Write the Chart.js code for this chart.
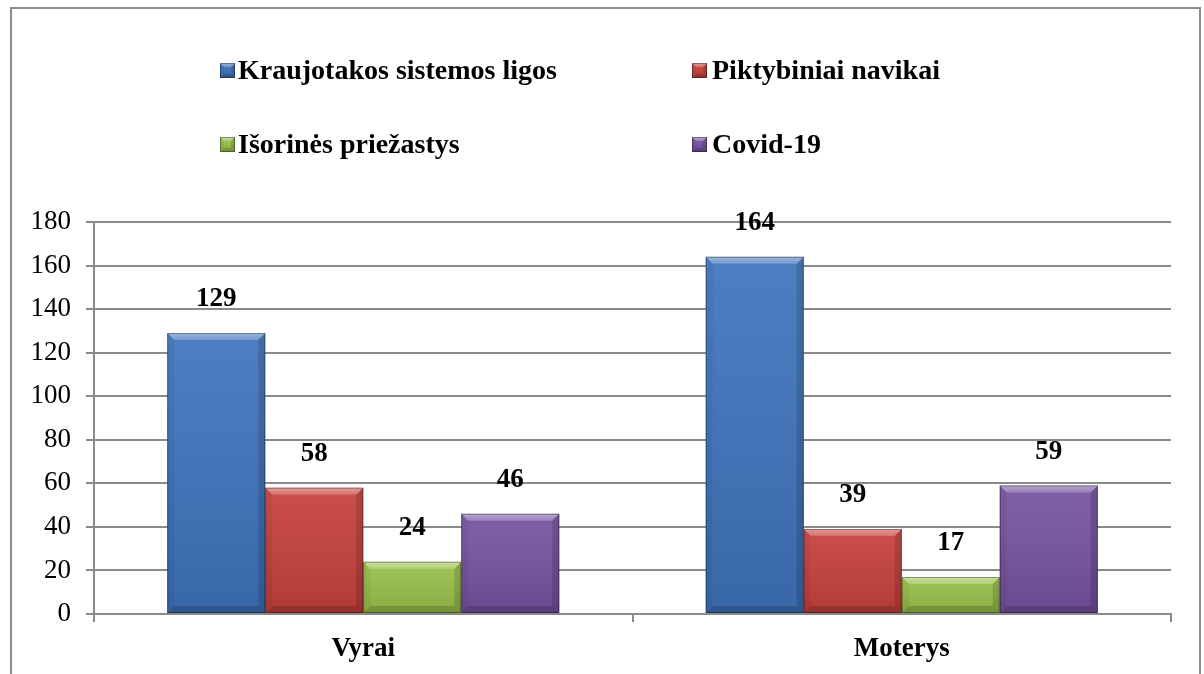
<!DOCTYPE html>
<html>
<head>
<meta charset="utf-8">
<script src="https://cdn.jsdelivr.net/npm/chart.js@4/dist/chart.umd.min.js"></script>
<style>
  html, body { margin: 0; padding: 0; background: #ffffff; }
  #wrap { position: relative; width: 1204px; height: 674px; }
  canvas { display: block; }
</style>
</head>
<body>
<div id="wrap"><canvas id="c" width="1204" height="674"></canvas></div>
<script>
// ---- Data ----
const categories = ['Vyrai', 'Moterys'];
const seriesNames = ['Kraujotakos sistemos ligos', 'Piktybiniai navikai', 'Išorinės priežastys', 'Covid-19'];
const kraujotakos = [129, 164];
const piktybiniai = [58, 39];
const isorines = [24, 17];
const covid = [46, 59];
const yTicks = [0, 20, 40, 60, 80, 100, 120, 140, 160, 180];

// ---- Styles ----
const seriesColors = ['#3E73BC', '#C6403B', '#98BF48', '#7552A0'];
const FONT = '"Liberation Serif", "Times New Roman", serif';
const gridColor = '#8a8a8a';

function bevel(ctx, left, top, right, bottom, b) {
  const w = right - left, h = bottom - top;
  b = Math.max(0, Math.min(b, w / 2, h / 2));
  ctx.save();
  const g = ctx.createLinearGradient(0, top, 0, bottom);
  g.addColorStop(0, 'rgba(255,255,255,0.08)');
  g.addColorStop(1, 'rgba(0,0,0,0.10)');
  ctx.fillStyle = g;
  ctx.fillRect(left, top, w, h);
  // top bevel
  ctx.beginPath();
  ctx.moveTo(left, top); ctx.lineTo(right, top);
  ctx.lineTo(right - b, top + b); ctx.lineTo(left + b, top + b); ctx.closePath();
  const tg = ctx.createLinearGradient(0, top, 0, top + b);
  tg.addColorStop(0, 'rgba(255,255,255,0.45)');
  tg.addColorStop(1, 'rgba(255,255,255,0.20)');
  ctx.fillStyle = tg;
  ctx.fill();
  // left bevel
  ctx.beginPath();
  ctx.moveTo(left, top); ctx.lineTo(left + b, top + b);
  ctx.lineTo(left + b, bottom - b); ctx.lineTo(left, bottom); ctx.closePath();
  ctx.fillStyle = 'rgba(0,0,0,0.05)';
  ctx.fill();
  // right bevel
  ctx.beginPath();
  ctx.moveTo(right, top); ctx.lineTo(right - b, top + b);
  ctx.lineTo(right - b, bottom - b); ctx.lineTo(right, bottom); ctx.closePath();
  ctx.fillStyle = 'rgba(0,0,0,0.14)';
  ctx.fill();
  // bottom bevel
  ctx.beginPath();
  ctx.moveTo(left, bottom); ctx.lineTo(left + b, bottom - b);
  ctx.lineTo(right - b, bottom - b); ctx.lineTo(right, bottom); ctx.closePath();
  ctx.fillStyle = 'rgba(0,0,0,0.16)';
  ctx.fill();
  ctx.strokeStyle = 'rgba(0,0,0,0.35)';
  ctx.lineWidth = 1;
  ctx.strokeRect(left + 0.5, top + 0.5, w - 1, h - 1);
  ctx.restore();
}

const framePlugin = {
  id: 'frame',
  beforeDraw(chart) {
    const ctx = chart.ctx;
    ctx.save();
    ctx.fillStyle = '#ffffff';
    ctx.fillRect(0, 0, chart.width, chart.height);
    ctx.strokeStyle = '#8c8c8c';
    ctx.lineWidth = 2;
    ctx.strokeRect(11, 8, 1189, 700);
    ctx.restore();
  }
};

const bevelPlugin = {
  id: 'bevel',
  afterDatasetsDraw(chart) {
    const ctx = chart.ctx;
    chart.data.datasets.forEach((ds, i) => {
      const meta = chart.getDatasetMeta(i);
      meta.data.forEach(el => {
        const p = el.getProps(['x', 'y', 'base', 'width'], true);
        bevel(ctx, p.x - p.width / 2, Math.min(p.y, p.base), p.x + p.width / 2, Math.max(p.y, p.base), 7);
      });
    });
  }
};

const valuePlugin = {
  id: 'values',
  afterDatasetsDraw(chart) {
    const ctx = chart.ctx;
    ctx.save();
    ctx.font = 'bold 27px ' + FONT;
    ctx.fillStyle = '#000';
    ctx.textAlign = 'center';
    ctx.textBaseline = 'alphabetic';
    chart.data.datasets.forEach((ds, i) => {
      const meta = chart.getDatasetMeta(i);
      meta.data.forEach((el, j) => {
        ctx.fillText(String(ds.data[j]), el.x, el.y - 27);
      });
    });
    ctx.restore();
  }
};

const legendPlugin = {
  id: 'gridLegend',
  afterDraw(chart) {
    const ctx = chart.ctx;
    const cols = [220, 692];
    const textOff = [18, 20];
    const rows = [79, 153];
    ctx.save();
    ctx.font = 'bold 28px ' + FONT;
    ctx.textAlign = 'left';
    ctx.textBaseline = 'alphabetic';
    chart.data.datasets.forEach((ds, i) => {
      const c = i % 2, r = Math.floor(i / 2);
      const x = cols[c], base = rows[r];
      const top = base - 16;
      ctx.fillStyle = ds.backgroundColor;
      ctx.fillRect(x, top, 15, 15);
      bevel(ctx, x, top, x + 15, top + 15, 4);
      ctx.fillStyle = '#000';
      ctx.fillText(ds.label, x + textOff[c], base);
    });
    ctx.restore();
  }
};

const seriesData = [kraujotakos, piktybiniai, isorines, covid];

new Chart(document.getElementById('c'), {
  type: 'bar',
  data: {
    labels: categories,
    datasets: seriesNames.map((name, i) => ({
      label: name,
      data: seriesData[i],
      backgroundColor: seriesColors[i],
      borderWidth: 0,
      categoryPercentage: 0.728,
      barPercentage: 1.0
    }))
  },
  options: {
    responsive: false,
    animation: false,
    layout: { padding: { left: 0, right: 33, top: 222, bottom: 0 } },
    plugins: { legend: { display: false }, tooltip: { enabled: false } },
    scales: {
      x: {
        grid: { drawOnChartArea: false, drawTicks: true, tickLength: 8, offset: true, color: gridColor, lineWidth: 2 },
        border: { display: true, color: gridColor, width: 2 },
        ticks: { color: '#000', font: { family: FONT, size: 27, weight: 'bold' }, padding: 11 },
        afterFit(s) { s.height = 674 - 614; }
      },
      y: {
        min: 0, max: 180,
        afterBuildTicks(s) { s.ticks = yTicks.map(v => ({ value: v })); },
        grid: { color: gridColor, lineWidth: 2, tickLength: 8 },
        border: { display: true, color: gridColor, width: 2 },
        ticks: { color: '#000', font: { family: FONT, size: 27 }, padding: 15 },
        afterFit(s) { s.width = 94; }
      }
    }
  },
  plugins: [framePlugin, bevelPlugin, valuePlugin, legendPlugin]
});
</script>
</body>
</html>
